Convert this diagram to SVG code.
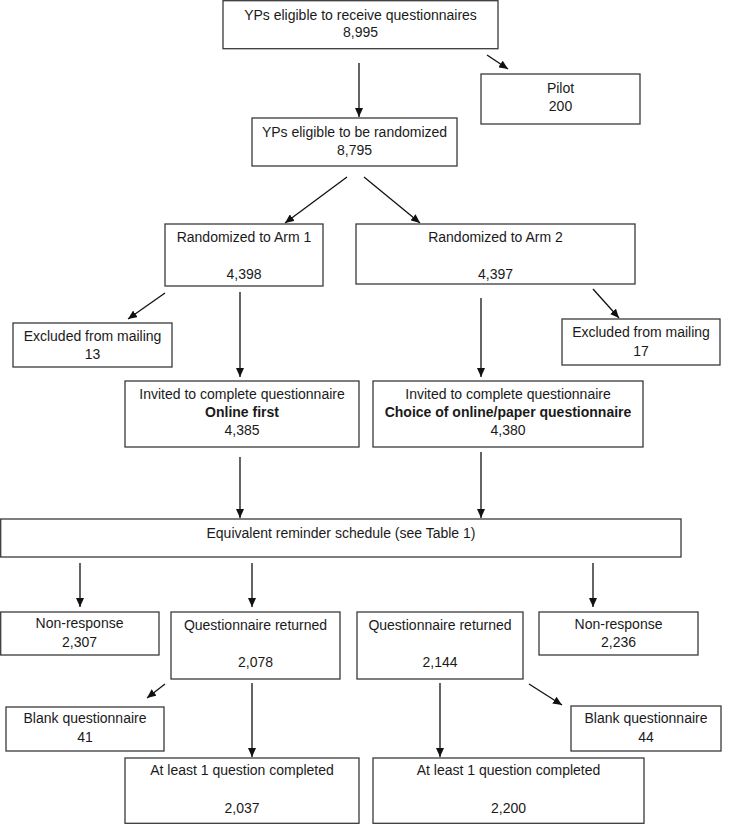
<svg xmlns="http://www.w3.org/2000/svg" width="730" height="824" viewBox="0 0 730 824">
<style>
  .box rect { fill: #ffffff; stroke: #3a3a3a; stroke-width: 1.3; }
  text { font-family: "Liberation Sans", Arial, sans-serif; font-size: 14px; fill: #1a1a1a; text-anchor: middle; }
  .b { font-weight: bold; }
  .conn line { stroke: #111; stroke-width: 1.3; marker-end: url(#ah); }
</style>
<defs>
  <marker id="ah" markerUnits="userSpaceOnUse" markerWidth="10" markerHeight="8" refX="9" refY="4" orient="auto">
    <path d="M0,0 L9,4 L0,8 Z" fill="#111"/>
  </marker>
</defs>
<rect width="730" height="824" fill="#ffffff"/>

<g class="conn" id="connectors">
  <line x1="359" y1="63" x2="359" y2="117"/>
  <line x1="487" y1="55" x2="508" y2="69"/>
  <line x1="347" y1="177" x2="285" y2="223"/>
  <line x1="364" y1="177" x2="420" y2="223"/>
  <line x1="165" y1="293" x2="128" y2="319"/>
  <line x1="240" y1="292" x2="240" y2="377"/>
  <line x1="481" y1="298" x2="481" y2="377"/>
  <line x1="593" y1="289" x2="619" y2="318"/>
  <line x1="240" y1="457" x2="240" y2="518"/>
  <line x1="481" y1="452" x2="481" y2="518"/>
  <line x1="80" y1="563" x2="80" y2="607"/>
  <line x1="252" y1="563" x2="252" y2="607"/>
  <line x1="593" y1="563" x2="593" y2="607"/>
  <line x1="165" y1="684" x2="147" y2="698"/>
  <line x1="252" y1="683" x2="252" y2="757"/>
  <line x1="440" y1="683" x2="440" y2="757"/>
  <line x1="529" y1="684" x2="562" y2="705"/>
</g>

<g class="box" id="eligible">
  <rect x="223" y="0.7" width="275" height="48"/>
  <text x="360.5" y="20">YPs eligible to receive questionnaires</text>
  <text x="360.5" y="37">8,995</text>
</g>
<g class="box" id="pilot">
  <rect x="481" y="74" width="159" height="50"/>
  <text x="560.5" y="93">Pilot</text>
  <text x="560.5" y="111">200</text>
</g>
<g class="box" id="randomizable">
  <rect x="252" y="118" width="205" height="48"/>
  <text x="354.5" y="137">YPs eligible to be randomized</text>
  <text x="354.5" y="155">8,795</text>
</g>
<g class="box" id="arm1">
  <rect x="165" y="224" width="158" height="62"/>
  <text x="244" y="242">Randomized to Arm 1</text>
  <text x="244" y="279">4,398</text>
</g>
<g class="box" id="arm2">
  <rect x="356" y="224" width="279" height="60"/>
  <text x="495.5" y="242">Randomized to Arm 2</text>
  <text x="495.5" y="279">4,397</text>
</g>
<g class="box" id="excluded1">
  <rect x="13" y="323" width="159" height="44"/>
  <text x="92.5" y="341">Excluded from mailing</text>
  <text x="92.5" y="359">13</text>
</g>
<g class="box" id="excluded2">
  <rect x="562" y="319" width="158" height="46"/>
  <text x="641" y="337">Excluded from mailing</text>
  <text x="641" y="356">17</text>
</g>
<g class="box" id="invited1">
  <rect x="125" y="381" width="234" height="66"/>
  <text x="242" y="399">Invited to complete questionnaire</text>
  <text x="242" y="417" class="b">Online first</text>
  <text x="242" y="435">4,385</text>
</g>
<g class="box" id="invited2">
  <rect x="373" y="381" width="270" height="66"/>
  <text x="508" y="399">Invited to complete questionnaire</text>
  <text x="508" y="417" class="b">Choice of online/paper questionnaire</text>
  <text x="508" y="435">4,380</text>
</g>
<g class="box" id="reminder">
  <rect x="0.7" y="519" width="680.3" height="38"/>
  <text x="341" y="538">Equivalent reminder schedule (see Table 1)</text>
</g>
<g class="box" id="nonresponse1">
  <rect x="0.7" y="612" width="158.3" height="43"/>
  <text x="79.5" y="628">Non-response</text>
  <text x="79.5" y="647">2,307</text>
</g>
<g class="box" id="returned1">
  <rect x="171" y="612" width="169" height="67"/>
  <text x="255.5" y="630">Questionnaire returned</text>
  <text x="255.5" y="667">2,078</text>
</g>
<g class="box" id="returned2">
  <rect x="357" y="612" width="166" height="67"/>
  <text x="440" y="630">Questionnaire returned</text>
  <text x="440" y="667">2,144</text>
</g>
<g class="box" id="nonresponse2">
  <rect x="539" y="612" width="159" height="43"/>
  <text x="618.5" y="629">Non-response</text>
  <text x="618.5" y="647">2,236</text>
</g>
<g class="box" id="blank1">
  <rect x="6" y="707" width="158" height="44"/>
  <text x="85" y="723">Blank questionnaire</text>
  <text x="85" y="742">41</text>
</g>
<g class="box" id="blank2">
  <rect x="571" y="706" width="150" height="45"/>
  <text x="646" y="723">Blank questionnaire</text>
  <text x="646" y="742">44</text>
</g>
<g class="box" id="completed1">
  <rect x="125" y="758" width="234" height="65.3"/>
  <text x="242" y="775">At least 1 question completed</text>
  <text x="242" y="813">2,037</text>
</g>
<g class="box" id="completed2">
  <rect x="373" y="758" width="271" height="65.3"/>
  <text x="508.5" y="775">At least 1 question completed</text>
  <text x="508.5" y="813">2,200</text>
</g>
</svg>
